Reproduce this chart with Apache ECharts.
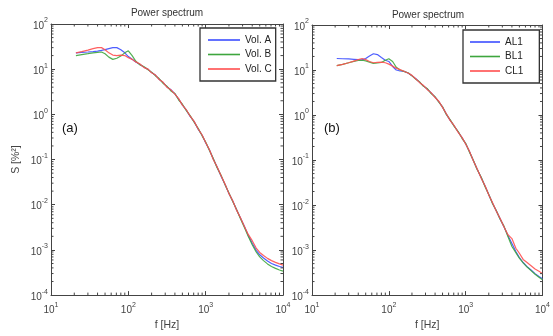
<!DOCTYPE html>
<html><head><meta charset="utf-8">
<script src="https://cdn.jsdelivr.net/npm/echarts@6/dist/echarts.min.js"></script>
<style>html,body{margin:0;padding:0;background:#fff}#c{width:553px;height:336px}</style>
</head><body><div id="c"></div>
<script>
// ---- data ----
const freqs = [21,25,30,35,40,45,50,56,63,71, 80,90,100,112,125,140,160,180,200,225,
  250,280,315,355,400,450,500,560,630,710, 800,900,1000,1120,1250,1400,1600,1800,2000,2240,
  2500,2800,3150,3550,4000,4500,5000,5600,6300,7100, 8000,9000,10000];

const volA = [23,23.5,24,24.5,25,26,27,28.5,30,30, 27,23,19,16.5,14.5,12.8,11.0,9.9,8.4,7.3,
  6.0,5.1,4.1,3.5,2.85,2.15,1.62,1.26,0.9,0.69, 0.47,0.345,0.235,0.162,0.104,0.069,0.041,0.027,0.0178,0.0121,
  0.0078,0.0052,0.0034,0.0021,0.0014,0.00098,0.00078,0.00066,0.00057,0.0005, 0.00046,0.00043,0.00041];
const volB = [20,21,22,23,23.5,24,22,18.5,16.5,17.5, 19.5,23,25.5,20,15,12.6,11.3,9.7,8.6,7.1,
  6.2,4.9,4.2,3.3,2.9,2.05,1.68,1.22,0.94,0.67, 0.49,0.335,0.245,0.158,0.107,0.067,0.043,0.0265,0.0182,0.0118,
  0.0079,0.005,0.0032,0.002,0.0013,0.0009,0.0007,0.00058,0.00049,0.00043, 0.00039,0.00036,0.00034];
const volC = [23,24.5,26.5,28.5,30,30,27,23,20.5,20, 20.5,20,18,16.5,14.5,13.2,10.8,10.0,8.3,7.4,
  5.9,5.2,4.0,3.5,2.8,2.2,1.6,1.28,0.91,0.7, 0.475,0.35,0.238,0.165,0.102,0.07,0.042,0.0275,0.0176,0.0123,
  0.0077,0.0053,0.0034,0.0022,0.0016,0.0011,0.00088,0.00075,0.00065,0.00058, 0.00053,0.00049,0.00046];

const al1 = [18,17.8,17.6,17.3,17,16.8,18,20.5,23,22, 19,16.5,15.5,12,10,9.5,9.3,8.5,7.5,6.4,
  5.4,4.5,3.8,3.1,2.5,1.95,1.5,1.05,0.76,0.57, 0.42,0.31,0.23,0.155,0.1,0.065,0.04,0.026,0.017,0.011,
  0.0075,0.005,0.0033,0.0021,0.0014,0.00093,0.00068,0.00053,0.00043,0.00036, 0.0003,0.00026,0.00023];
const bl1 = [12.5,13.3,14.5,15.5,16.3,16.5,16,15,14,14.3, 14.7,16.5,17.8,15.5,11.5,10,9.2,8.6,7.4,6.2,
  5.5,4.4,3.9,3.0,2.55,1.9,1.52,1.03,0.78,0.56, 0.43,0.3,0.235,0.15,0.102,0.063,0.041,0.025,0.0172,0.0107,
  0.0076,0.0049,0.0034,0.002,0.0012,0.00088,0.00066,0.00052,0.00042,0.00035, 0.00029,0.00025,0.00022];
const cl1 = [12.5,13.3,14.5,15.8,17,18,17,15.5,14.5,14.8, 15,14.5,13.5,12.2,11,10.2,9.3,8.5,7.6,6.3,
  5.3,4.6,3.7,3.15,2.45,2.0,1.48,1.07,0.75,0.58, 0.41,0.315,0.228,0.158,0.099,0.066,0.039,0.0262,0.0168,0.0112,
  0.0074,0.0051,0.0033,0.0022,0.0018,0.0011,0.00085,0.00062,0.00053,0.00045, 0.00038,0.00034,0.0003];

const namesA = ['Vol. A','Vol. B','Vol. C'];
const namesB = ['AL1','BL1','CL1'];
const xTicks = [10,100,1000,10000];
const yTicks = [0.0001,0.001,0.01,0.1,1,10,100];
const titles = ['Power spectrum','Power spectrum'];
const panelTags = ['(a)','(b)'];
const xName = 'f [Hz]';
const yName = 'S [%\u00B2]';

// ---- styling ----
const colors = ['#3b4dff','#3ea63e','#ff4f4f'];
const FONT = 'Liberation Sans, Arial, sans-serif';
const AX = '#444';
const grids = [
  {left:51, top:24, width:232, height:273},
  {left:312, top:25, width:233, height:273}
];

// minor tick positions (2..9 x decade) for the log axes
const minorX = [], minorY = [];
for (let e = 1; e < 4; e++) for (let m = 2; m <= 9; m++) minorX.push(m * Math.pow(10, e));
for (let e = -4; e < 2; e++) for (let m = 2; m <= 9; m++) minorY.push(+(m * Math.pow(10, e)).toPrecision(3));

function lab(v) {
  const e = Math.round(Math.log10(v));
  return '{b|10}{s|' + e + '}';
}
const rich = {
  b: {fontSize:10, fontFamily:FONT, color:AX, lineHeight:14, verticalAlign:'bottom'},
  s: {fontSize:7, fontFamily:FONT, color:AX, lineHeight:7, verticalAlign:'top'}
};

const xAxes = [], yAxes = [];
grids.forEach((g, i) => {
  const base = {type:'log', logBase:10, gridIndex:i, splitLine:{show:false},
    axisLine:{show:true, lineStyle:{color:AX, width:1}},
    axisTick:{show:true, inside:true, length:4, lineStyle:{color:AX, width:1}}};
  xAxes.push(Object.assign({}, base, {position:'bottom', min:10, max:10000, interval:1,
    axisLabel:{show:true, formatter:lab, rich:rich, margin:6},
    name:xName, nameLocation:'middle', nameGap:20,
    nameTextStyle:{fontSize:10.5, fontFamily:FONT, color:AX}}));
  xAxes.push(Object.assign({}, base, {position:'top', min:10, max:10000, interval:1,
    axisLabel:{show:false}}));
  const yl = Object.assign({}, base, {position:'left', min:0.0001, max:100, interval:1,
    axisLabel:{show:true, formatter:lab, rich:rich, margin:3}});
  if (i === 0) Object.assign(yl, {name:yName, nameLocation:'middle', nameGap:29, nameRotate:90,
    nameTextStyle:{fontSize:10.5, fontFamily:FONT, color:AX}});
  yAxes.push(yl);
  yAxes.push(Object.assign({}, base, {position:'right', min:0.0001, max:100, interval:1,
    axisLabel:{show:false}}));
});

const series = [];
const panelData = [[volA, volB, volC], [al1, bl1, cl1]];
const panelNames = [namesA, namesB];
panelData.forEach((arrs, p) => {
  arrs.forEach((vals, k) => {
    series.push({
      type:'line', name:panelNames[p][k], xAxisIndex:2*p, yAxisIndex:2*p,
      data: freqs.map((f, j) => [f, vals[j]]),
      showSymbol:false, symbol:'none', smooth:false,
      lineStyle:{color:colors[k], width:1.2, opacity:0.9},
      itemStyle:{color:colors[k]}, z:2+k
    });
  });
  // minor ticks (decoration) along bottom/top and left/right
  series.push({
    type:'custom', xAxisIndex:2*p, yAxisIndex:2*p, silent:true, clip:false, z:10,
    data: minorX.map(v => [v, 1]),
    renderItem: (params, api) => {
      const x = api.coord([api.value(0), 1])[0];
      const cs = params.coordSys;
      return {type:'group', children:[
        {type:'line', shape:{x1:x, y1:cs.y+cs.height, x2:x, y2:cs.y+cs.height-2.5}, style:{stroke:AX, lineWidth:1}},
        {type:'line', shape:{x1:x, y1:cs.y, x2:x, y2:cs.y+2.5}, style:{stroke:AX, lineWidth:1}}
      ]};
    }
  });
  series.push({
    type:'custom', xAxisIndex:2*p, yAxisIndex:2*p, silent:true, clip:false, z:10,
    data: minorY.map(v => [100, v]),
    renderItem: (params, api) => {
      const y = api.coord([100, api.value(1)])[1];
      const cs = params.coordSys;
      return {type:'group', children:[
        {type:'line', shape:{x1:cs.x, y1:y, x2:cs.x+2.5, y2:y}, style:{stroke:AX, lineWidth:1}},
        {type:'line', shape:{x1:cs.x+cs.width, y1:y, x2:cs.x+cs.width-2.5, y2:y}, style:{stroke:AX, lineWidth:1}}
      ]};
    }
  });
});

const legendCommon = {orient:'vertical', itemGap:2.5, itemHeight:1.6, icon:'rect',
  backgroundColor:'#fff', borderColor:'#333', borderWidth:1.3, borderRadius:0,
  textStyle:{fontSize:10, fontFamily:FONT, color:'#222', lineHeight:12}, selectedMode:false};

const option = {
  animation:false,
  backgroundColor:'#fff',
  grid: grids.map(g => Object.assign({show:false, containLabel:false}, g)),
  xAxis: xAxes,
  yAxis: yAxes,
  legend: [
    Object.assign({}, legendCommon, {data:namesA, left:200, top:28, itemWidth:32, padding:[6,4,6,8]}),
    Object.assign({}, legendCommon, {data:namesB, left:463, top:30, itemWidth:30, padding:[6,16,6,7]})
  ],
  graphic: [
    {type:'text', x:167, y:13, style:{text:titles[0], align:'center', verticalAlign:'middle', fontSize:10, fontFamily:FONT, fill:'#333'}},
    {type:'text', x:428, y:15, style:{text:titles[1], align:'center', verticalAlign:'middle', fontSize:10, fontFamily:FONT, fill:'#333'}},
    {type:'text', x:62, y:128, style:{text:panelTags[0], align:'left', verticalAlign:'middle', fontSize:13, fontFamily:FONT, fill:'#111'}},
    {type:'text', x:324, y:128, style:{text:panelTags[1], align:'left', verticalAlign:'middle', fontSize:13, fontFamily:FONT, fill:'#111'}}
  ],
  series: series
};
const chart = echarts.init(document.getElementById('c'), null, {renderer:'canvas'});
chart.setOption(option);
</script></body></html>
